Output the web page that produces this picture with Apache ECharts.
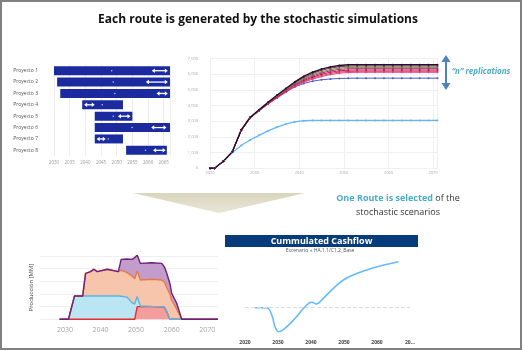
<!DOCTYPE html>
<html>
<head>
<meta charset="utf-8">
<script src="https://cdn.jsdelivr.net/npm/echarts@6/dist/echarts.min.js"></script>
<style>
html,body{margin:0;padding:0;background:#fff}
#chart{width:523px;height:351px}
</style>
</head>
<body>
<div id="chart"></div>
<script>
//gantt de proyectos
var projects = ['Proyecto 1', 'Proyecto 2', 'Proyecto 3', 'Proyecto 4', 'Proyecto 5', 'Proyecto 6', 'Proyecto 7', 'Proyecto 8'];
var projStart = [2030, 2031, 2032, 2039, 2043, 2043, 2043, 2053];
var projEnd = [2067, 2067, 2067, 2052, 2055, 2067, 2052, 2066];
var arrowFrom = [2061.2, 2059.3, 2062.7, 2039.6, 2050.4, 2061, 2043.6, 2061.6];
var arrowTo = [2066.3, 2066.3, 2066.3, 2043, 2054.4, 2065.9, 2046.5, 2065.6];
var dotYear = [2048.4, 2048.9, 2049.4, 2045.4, 2048.9, 2054.9, 2047.3, 2059.2];

//replicaciones estocasticas (acumulado)
var simYears = [2020, 2021, 2023, 2025, 2027, 2029, 2031, 2033, 2035, 2037, 2039, 2041, 2043, 2045, 2047, 2049, 2051, 2053, 2055, 2057, 2059, 2061, 2063, 2065, 2067, 2069, 2071];
var repA = [0, 0, 450, 1050, 2450, 3250, 3720, 4200, 4650, 5080, 5500, 5850, 6120, 6320, 6460, 6550, 6600, 6600, 6600, 6600, 6600, 6600, 6600, 6600, 6600, 6600, 6600];
var repB = [0, 0, 450, 1050, 2440, 3240, 3710, 4180, 4620, 5040, 5450, 5780, 6040, 6240, 6380, 6470, 6510, 6515, 6515, 6515, 6515, 6515, 6515, 6515, 6515, 6515, 6515];
var repC = [0, 0, 450, 1050, 2430, 3230, 3700, 4160, 4590, 5000, 5400, 5710, 5960, 6150, 6290, 6380, 6420, 6430, 6430, 6430, 6430, 6430, 6430, 6430, 6430, 6430, 6430];
var repD = [0, 0, 450, 1050, 2420, 3220, 3690, 4140, 4560, 4960, 5350, 5650, 5880, 6070, 6210, 6300, 6340, 6345, 6345, 6345, 6345, 6345, 6345, 6345, 6345, 6345, 6345];
var repE = [0, 0, 450, 1050, 2410, 3210, 3680, 4120, 4530, 4920, 5300, 5590, 5810, 5990, 6120, 6210, 6250, 6260, 6260, 6260, 6260, 6260, 6260, 6260, 6260, 6260, 6260];
var repF = [0, 0, 450, 1050, 2400, 3200, 3670, 4100, 4500, 4880, 5250, 5530, 5740, 5910, 6040, 6130, 6170, 6180, 6180, 6180, 6180, 6180, 6180, 6180, 6180, 6180, 6180];
var repG = [0, 0, 450, 1050, 2390, 3190, 3660, 4080, 4470, 4840, 5200, 5480, 5680, 5840, 5970, 6060, 6100, 6115, 6115, 6115, 6115, 6115, 6115, 6115, 6115, 6115, 6115];
var repH = [0, 0, 450, 1050, 2400, 3200, 3670, 4100, 4500, 4870, 5180, 5400, 5550, 5640, 5690, 5720, 5735, 5740, 5740, 5740, 5740, 5740, 5740, 5740, 5740, 5740, 5740];
var repLow = [0, 0, 450, 1000, 1450, 1800, 2100, 2380, 2620, 2820, 2960, 3030, 3050, 3050, 3050, 3050, 3050, 3050, 3050, 3050, 3050, 3050, 3050, 3050, 3050, 3050, 3050];

//produccion de la ruta seleccionada
var prodYears = [2028.5, 2031, 2032.7, 2035, 2035.8, 2037.2, 2038.1, 2039.1, 2041.9, 2045, 2045.8, 2047.4, 2048.9, 2049.6, 2050.3, 2051.2, 2054.4, 2057.2, 2058, 2058.6, 2059.5, 2060, 2061.4, 2062.8, 2073];
var prodRed = [0, 0, 0, 0, 0, 0, 0, 0, 0, 0, 0, 0, 0, 0, 10, 10, 10, 9.8, 9.3, 6, 0, 0, 0, 0, 0];
var prodBlue = [0, 0, 18.4, 18.4, 18.4, 18.4, 18.4, 18.4, 18.4, 18.4, 18.2, 17.5, 13, 12, 8, 0.5, 0.2, 0.2, 0.2, 0, 0, 0, 0, 0, 0];
var prodSalmon = [0, 0, 0, 0, 17.8, 19.1, 21, 19.1, 21, 19.1, 20.3, 19.5, 21, 20, 20, 20.5, 21.3, 21, 19.5, 19, 20, 15, 8, 0, 0];
var prodPurple = [0, 0, 0, 0, 0, 0, 0, 0, 0, 0, 8.7, 10.5, 13.2, 16.5, 12.6, 13, 13, 13, 12, 11.2, 8, 5.5, 4.6, 0, 0];
var prodTicks = [2030, 2040, 2050, 2060, 2070];

//flujo de caja acumulado
var cfYears = [2023, 2026.6, 2028.1, 2029.1, 2030.1, 2032.1, 2035.2, 2038.2, 2040.2, 2041.7, 2043.7, 2046.8, 2049.8, 2052.8, 2056.9, 2060.9, 2066.5];
var cfValues = [0, 0, -73, -190, -240, -206, -106, 10, 54, 37, 94, 194, 277, 327, 377, 417, 460];

var chart = echarts.init(document.getElementById('chart'));
var FONT = '"Open Sans", "Noto Sans", sans-serif';

//une años y valores
function pairs(xs, ys) {
    var out = [];
    for (var i = 0; i < xs.length; i++) {
        out.push([xs[i], ys[i]]);
    }
    return out;
}

function yearLabel(v) {
    return String(v);
}

//filas del gantt
var ganttData = [];
for (var i = 0; i < projects.length; i++) {
    ganttData.push([i, projStart[i], projEnd[i], arrowFrom[i], arrowTo[i], dotYear[i]]);
}

function renderGantt(params, api) {
    var cat = api.value(0);
    var s = api.coord([api.value(1), cat]);
    var e = api.coord([api.value(2), cat]);
    var a1 = api.coord([api.value(3), cat]);
    var a2 = api.coord([api.value(4), cat]);
    var d = api.coord([api.value(5), cat]);
    var h = 9;
    var y = s[1];
    return {
        type: 'group',
        children: [
            {type: 'rect', shape: {x: s[0], y: y - h / 2, width: e[0] - s[0], height: h}, style: {fill: '#1b2a9e'}},
            {type: 'line', shape: {x1: a1[0] + 2, y1: y, x2: a2[0] - 2, y2: y}, style: {stroke: '#fff', lineWidth: 1.3}},
            {type: 'polygon', shape: {points: [[a1[0], y], [a1[0] + 3, y - 2.2], [a1[0] + 3, y + 2.2]]}, style: {fill: '#fff'}},
            {type: 'polygon', shape: {points: [[a2[0], y], [a2[0] - 3, y - 2.2], [a2[0] - 3, y + 2.2]]}, style: {fill: '#fff'}},
            {type: 'circle', shape: {cx: d[0], cy: y, r: 0.8}, style: {fill: '#b8bde6'}}
        ]
    };
}

function simLine(data, color, width) {
    return {
        type: 'line',
        xAxisIndex: 1,
        yAxisIndex: 1,
        data: pairs(simYears, data),
        symbol: 'circle',
        symbolSize: 2,
        lineStyle: {color: color, width: width || 1},
        itemStyle: {color: color},
        silent: true
    };
}

//valor primero para que el apilado sea sobre el eje y
function prodArea(data, line, fill) {
    return {
        type: 'line',
        xAxisIndex: 2,
        yAxisIndex: 2,
        stack: 'prod',
        data: pairs(data, prodYears),
        encode: {x: 1, y: 0},
        showSymbol: false,
        lineStyle: {color: line, width: 1.4},
        areaStyle: {color: fill, opacity: 1},
        silent: true
    };
}

var option = {
    animation: false,
    textStyle: {fontFamily: FONT},
    grid: [
        {left: 54, right: 353, top: 65, bottom: 195},
        {left: 210, right: 85.5, top: 58.4, bottom: 182.7},
        {left: 40, right: 305, top: 255.8, bottom: 31.7},
        {left: 245, right: 113, top: 257.7, bottom: 13.3}
    ],
    xAxis: [
        {
            gridIndex: 0, type: 'value', min: 2030, max: 2067, interval: 5,
            axisLine: {show: false}, axisTick: {show: false},
            axisLabel: {fontSize: 4.5, color: '#999', margin: 4, showMaxLabel: false, formatter: yearLabel},
            splitLine: {lineStyle: {color: '#ececec'}}
        },
        {
            gridIndex: 1, type: 'value', min: 2020, max: 2071, interval: 10,
            axisLine: {show: false}, axisTick: {show: false},
            axisLabel: {fontSize: 4, color: '#aaa', margin: 3, showMaxLabel: false, formatter: yearLabel},
            splitLine: {lineStyle: {color: '#f0f0f0'}}
        },
        {
            gridIndex: 2, type: 'value', min: 2023, max: 2073,
            axisLine: {show: false}, axisTick: {show: false},
            axisLabel: {fontSize: 7, color: '#a6a6a6', margin: 7, customValues: prodTicks, formatter: yearLabel},
            splitLine: {show: false}
        },
        {
            gridIndex: 3, type: 'value', min: 2020, max: 2070, interval: 10,
            axisLine: {show: false}, axisTick: {show: false},
            axisLabel: {
                fontSize: 5, fontWeight: 'bold', color: '#444', margin: 2,
                formatter: function (v) { return v === 2070 ? '20...' : String(v); }
            },
            splitLine: {show: false}
        }
    ],
    yAxis: [
        {
            gridIndex: 0, type: 'category', data: projects, inverse: true,
            axisLine: {show: false}, axisTick: {show: false},
            axisLabel: {fontSize: 5, color: '#555', margin: 16}
        },
        {
            gridIndex: 1, type: 'value', min: 0, max: 7000, interval: 1000,
            axisLine: {show: false}, axisTick: {show: false},
            axisLabel: {fontSize: 4, color: '#aaa', margin: 12},
            splitLine: {lineStyle: {color: '#f0f0f0'}}
        },
        {
            gridIndex: 2, type: 'value', min: 0, max: 50, interval: 10,
            axisLine: {show: false}, axisTick: {show: false},
            axisLabel: {show: false},
            splitLine: {lineStyle: {color: '#eeeeee'}},
            name: 'Producción [MM]', nameLocation: 'middle', nameGap: 6, nameRotate: 90,
            nameTextStyle: {fontSize: 6, color: '#444'}
        },
        {
            gridIndex: 3, type: 'value', min: -300, max: 500,
            axisLine: {show: false}, axisTick: {show: false},
            axisLabel: {show: false}, splitLine: {show: false}
        }
    ],
    series: [
        {
            type: 'custom',
            xAxisIndex: 0,
            yAxisIndex: 0,
            renderItem: renderGantt,
            encode: {x: [1, 2], y: 0},
            data: ganttData,
            silent: true
        },
        simLine(repLow, '#62b6f5', 1.3),
        simLine(repH, '#4b5cc4'),
        simLine(repG, '#d9479a'),
        simLine(repF, '#e03c5a'),
        simLine(repE, '#c2185b'),
        simLine(repD, '#a0306a'),
        simLine(repC, '#7d8a3c'),
        simLine(repB, '#6b3a5a'),
        simLine(repA, '#2a0c2c', 1.4),
        prodArea(prodRed, '#ee2a2a', '#f59c9c'),
        prodArea(prodBlue, '#5cb6df', '#bae5f2'),
        prodArea(prodSalmon, '#e47a45', '#f6c5ab'),
        prodArea(prodPurple, '#6e1f7e', '#c29dcc'),
        {
            type: 'line',
            xAxisIndex: 3,
            yAxisIndex: 3,
            data: pairs(cfYears, cfValues),
            smooth: 0.4,
            showSymbol: false,
            lineStyle: {color: '#66bbff', width: 1.6},
            markLine: {
                silent: true, symbol: 'none', label: {show: false},
                lineStyle: {color: '#dddddd', type: 'dashed', width: 1},
                data: [{yAxis: 0}]
            },
            silent: true
        }
    ],
    graphic: [
        {type: 'rect', shape: {x: 1, y: 1, width: 520, height: 348}, style: {fill: 'none', stroke: '#808080', lineWidth: 2}},
        {
            type: 'text', x: 258, y: 20,
            style: {text: 'Each route is generated by the stochastic simulations', font: 'bold 12px ' + FONT, fill: '#111', align: 'center', verticalAlign: 'middle'}
        },
        {
            type: 'polygon', shape: {points: [[133, 193], [305, 193], [219, 213]]},
            style: {fill: new echarts.graphic.LinearGradient(0, 0, 0, 1, [{offset: 0, color: '#d9d4bb'}, {offset: 1, color: '#e9e6d8'}])}
        },
        {
            type: 'text', x: 398, y: 198,
            style: {
                text: '{b|One Route is selected} of the', font: '9px ' + FONT, fill: '#333', align: 'center', verticalAlign: 'middle',
                rich: {b: {fill: '#4bacc6', font: 'bold 9px ' + FONT}}
            }
        },
        {
            type: 'text', x: 398, y: 212,
            style: {text: 'stochastic scenarios', font: '9px ' + FONT, fill: '#333', align: 'center', verticalAlign: 'middle'}
        },
        {type: 'line', shape: {x1: 446, y1: 60, x2: 446, y2: 85}, style: {stroke: '#4f81bd', lineWidth: 2}},
        {type: 'polygon', shape: {points: [[441.5, 62], [450.5, 62], [446, 55]]}, style: {fill: '#4f81bd'}},
        {type: 'polygon', shape: {points: [[441.5, 83], [450.5, 83], [446, 90]]}, style: {fill: '#4f81bd'}},
        {
            type: 'text', x: 481, y: 72,
            style: {text: '\u201cn\u201d replications', font: 'italic bold 8px ' + FONT, fill: '#4bacc6', align: 'center', verticalAlign: 'middle'}
        },
        {type: 'rect', shape: {x: 225, y: 235, width: 193, height: 12}, style: {fill: '#063c7c'}},
        {
            type: 'text', x: 321.5, y: 241.3,
            style: {text: 'Cummulated Cashflow', font: 'bold 9px ' + FONT, fill: '#fff', align: 'center', verticalAlign: 'middle'}
        },
        {
            type: 'text', x: 320, y: 251,
            style: {
                text: 'Escenario {d|\u25cf} HA.1.1/C1.2_Base', font: '5px ' + FONT, fill: '#555', align: 'center', verticalAlign: 'middle',
                rich: {d: {fill: '#66bbff', font: '5px ' + FONT}}
            }
        }
    ]
};

chart.setOption(option);
</script>
</body>
</html>
